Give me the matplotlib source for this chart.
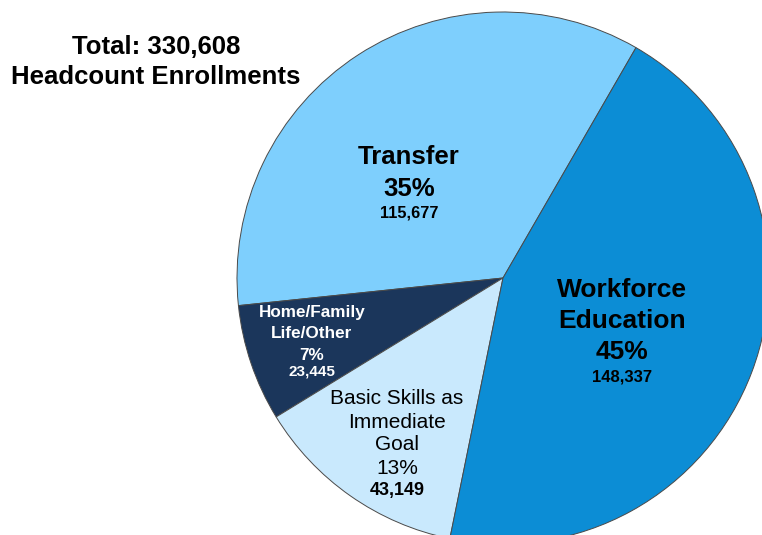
import matplotlib.pyplot as plt

plt.rcParams['font.family'] = ['Liberation Sans', 'DejaVu Sans']

# Headcount enrollments by goal
categories = ['Transfer', 'Home/Family\nLife/Other', 'Basic Skills as\nImmediate\nGoal', 'Workforce\nEducation']
counts = [115677, 23445, 43149, 148337]
colors = ['#7ECFFD', '#1B365B', '#C9E9FD', '#0C8DD5']
total = sum(counts)

W, H = 762, 535
fig = plt.figure(figsize=(W / 100, H / 100), dpi=100)
ax = fig.add_axes([0, 0, 1, 1])

cx, cy, r = 503, H - 278, 266
ax.pie(counts, colors=colors, startangle=60, counterclock=True,
       center=(cx, cy), radius=r, frame=True,
       wedgeprops=dict(edgecolor='#4a4a4a', linewidth=0.7))
ax.set_xlim(0, W)
ax.set_ylim(0, H)
ax.set_aspect('equal')
ax.axis('off')


def pct(v):
    return f'{round(100 * v / total)}%'


def label(x, y, lines, color='black'):
    # lines: list of (text, size, weight, y offset in px)
    for txt, size, weight, dy in lines:
        ax.text(x, H - (y + dy), txt, ha='center', va='center',
                fontsize=size, fontweight=weight, color=color)


label(156, 47, [(f'Total: {total:,}', 18.5, 'bold', 0),
                ('Headcount Enrollments', 18.5, 'bold', 30)])

# Transfer
label(409, 157, [('Transfer', 18.5, 'bold', 0),
                 (pct(counts[0]), 18.5, 'bold', 32),
                 (f'{counts[0]:,}', 11.8, 'bold', 56)])

# Workforce Education
label(622, 290, [('Workforce', 19, 'bold', 0),
                 ('Education', 19, 'bold', 31),
                 (pct(counts[3]), 19, 'bold', 62),
                 (f'{counts[3]:,}', 12, 'bold', 87)])

# Home/Family Life/Other
label(312, 312, [('Home/Family', 12.3, 'bold', 0),
                 ('Life/Other', 12.3, 'bold', 21),
                 (pct(counts[1]), 12.3, 'bold', 43),
                 (f'{counts[1]:,}', 11, 'bold', 60)], color='white')

# Basic Skills as Immediate Goal
label(397, 398, [('Basic Skills as', 15, 'normal', 0),
                 ('Immediate', 15, 'normal', 24),
                 ('Goal', 15, 'normal', 47),
                 (pct(counts[2]), 15, 'normal', 70),
                 (f'{counts[2]:,}', 13, 'bold', 92)])

fig.savefig('out.png', dpi=100)
